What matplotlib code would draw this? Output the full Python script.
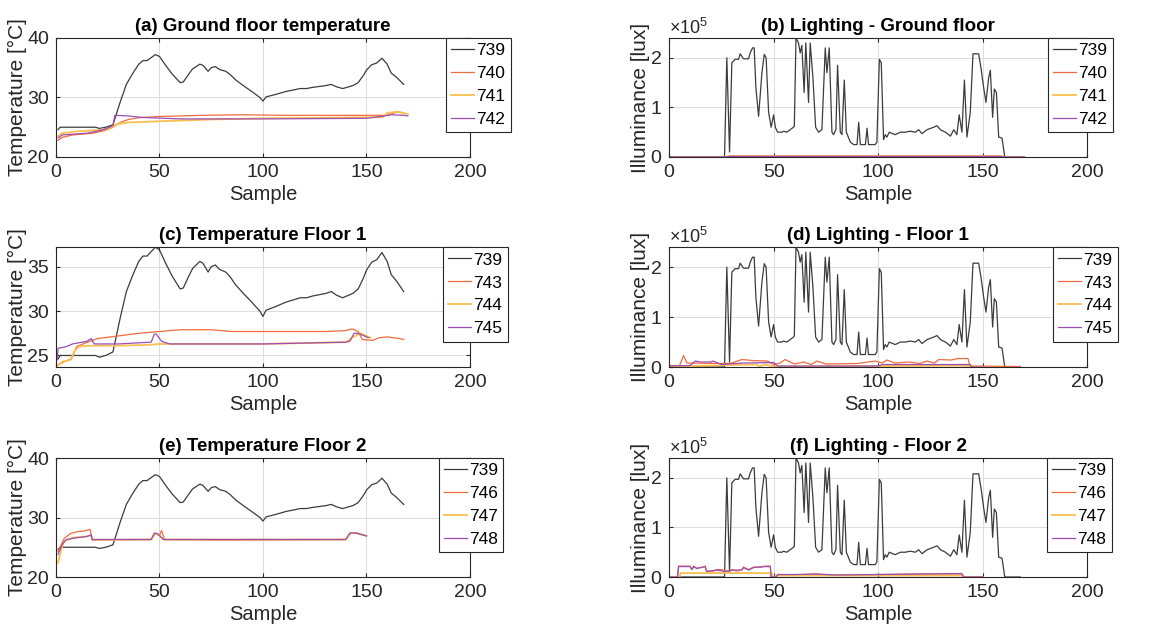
import numpy as np
import matplotlib.pyplot as plt
from matplotlib.ticker import ScalarFormatter

plt.rcParams['font.family'] = ['Liberation Sans', 'DejaVu Sans']
plt.rcParams['mathtext.fontset'] = 'custom'
plt.rcParams['mathtext.rm'] = 'Liberation Sans'

# 传感器 739 (室外参考), 三个楼层都画
temp_739 = [(1, 24.6), (2, 25.0), (19, 25.0), (21, 24.8), (24, 25.0), (27.5, 25.4), (29, 27.0),
            (31, 29.2), (34, 32.2), (37, 34.0), (40, 35.6), (42, 36.2), (44, 36.2), (46, 36.7),
            (48, 37.2), (50, 36.9), (53, 35.4), (56, 34.0), (60, 32.5), (61.5, 32.6), (64.5, 34.1),
            (66, 34.8), (69.5, 35.6), (71, 35.4), (73.5, 34.4), (75, 35.0), (77, 35.2), (79, 34.7),
            (82, 34.4), (84, 33.9), (87, 32.9), (90.5, 32.0), (95, 30.9), (98.5, 30.0), (100, 29.4),
            (101.5, 30.1), (106, 30.5), (111, 31.0), (118, 31.5), (121, 31.5), (124, 31.7),
            (130.5, 32.0), (133, 32.2), (135.5, 31.8), (138.5, 31.5), (143.5, 32.0), (146, 32.5),
            (148.5, 33.7), (150, 34.6), (152.5, 35.5), (155, 35.8), (157.5, 36.6), (160, 35.6),
            (162, 34.1), (164.5, 33.4), (168, 32.2)]

# 照度, 单位 1e5 lux
lux_739 = [(0, 0), (26.5, 0), (27.6, 2.0), (28.9, 0.1), (30, 1.9), (31.6, 1.97), (33.2, 1.97),
           (34, 2.08), (35.6, 1.98), (38, 1.98), (38.8, 2.1), (39.9, 2.2), (40.7, 2.2), (41.5, 1.4),
           (42.8, 0.82), (44.4, 1.7), (45.5, 2.07), (46.4, 2.0), (47.6, 0.9), (48.8, 0.6), (50, 0.85),
           (50.8, 0.6), (51.9, 0.5), (54, 0.5), (54.7, 0.52), (56.3, 0.5), (57.9, 0.55), (59.5, 0.6),
           (59.9, 0.62), (60.7, 2.4), (61.9, 2.3), (62.7, 2.1), (63.5, 2.25), (64.6, 1.3), (65.4, 2.3),
           (66.7, 1.1), (67.5, 2.3), (68.8, 1.6), (70.1, 0.6), (71.5, 0.5), (73.1, 0.55), (74.7, 2.2),
           (75.5, 1.7), (76.6, 2.2), (77.9, 0.5), (78.7, 0.45), (79.8, 0.55), (80.6, 1.85), (81.9, 0.5),
           (82.7, 0.45), (83.8, 1.55), (84.8, 0.5), (86.7, 0.3), (88.3, 0.25), (89.9, 0.25), (90.7, 0.7),
           (91.5, 0.25), (93.9, 0.25), (94.7, 0.58), (95.4, 0.25), (98.6, 0.25), (99.4, 0.3),
           (100.6, 1.97), (101.5, 1.9), (102.6, 0.35), (103.4, 0.45), (104.2, 0.4), (105.3, 0.5),
           (108.2, 0.45), (110.6, 0.5), (113, 0.5), (115.4, 0.52), (117.8, 0.5), (119.4, 0.55),
           (121, 0.47), (123.4, 0.55), (126.6, 0.6), (128.2, 0.63), (129.8, 0.55), (132.2, 0.5),
           (134.6, 0.42), (136.2, 0.55), (137.7, 0.45), (138.8, 0.85), (140.1, 0.5), (141.3, 1.55),
           (142.5, 0.4), (144.1, 0.9), (145.4, 2.08), (148.1, 2.08), (149.2, 1.8), (150.5, 1.4),
           (151.6, 1.1), (152.9, 1.6), (153.7, 1.75), (154.8, 0.8), (155.6, 1.37), (156.6, 1.3),
           (157.7, 0.4), (159.3, 0.38), (160.6, 0), (168, 0)]

# 一楼 (ground floor)
temp_740 = [(1, 22.8), (3, 23.3), (8, 23.7), (18, 24.0), (24, 24.5), (27, 24.9), (31, 25.8), (35, 26.3),
            (40, 26.6), (50, 26.8), (70, 27.0), (90, 27.1), (110, 27.0), (160, 27.0), (165, 27.6),
            (168, 27.4)]
temp_741 = [(1, 23.5), (3, 24.0), (10, 24.3), (20, 24.5), (26, 24.8), (29, 25.5), (35, 25.8), (50, 26.0),
            (75, 26.3), (100, 26.5), (130, 26.6), (158, 26.7), (160, 27.4), (165, 27.6), (170, 27.2)]
temp_742 = [(1, 23.2), (3, 23.7), (15, 24.0), (22, 24.5), (26, 25.0), (27.5, 25.3), (28.5, 27.0),
            (35, 26.9), (40, 26.7), (45, 26.6), (60, 26.4), (100, 26.4), (150, 26.5), (157, 26.8),
            (162, 27.1), (168, 27.0), (170, 26.9)]
lux_740 = [(0, 0), (27, 0), (29, 0.025), (158, 0.025), (161, 0), (170, 0)]
lux_741 = [(0, 0), (27, 0), (29, 0.015), (158, 0.015), (161, 0), (170, 0)]
lux_742 = [(0, 0), (27, 0), (29, 0.01), (158, 0.01), (161, 0), (170, 0)]

# 二楼 (floor 1)
temp_743 = [(0.5, 23.9), (5, 24.4), (7.5, 24.6), (10, 26.0), (14, 26.4), (20, 26.9), (30, 27.2),
            (40, 27.5), (50, 27.7), (60, 27.9), (75, 27.9), (85, 27.7), (130, 27.7), (140, 27.8),
            (143, 28.0), (146, 27.7), (148, 26.8), (153, 26.7), (156, 27.0), (160, 27.1), (166, 26.9),
            (168, 26.8)]
temp_744 = [(0.5, 23.8), (3, 24.3), (7, 24.5), (9, 25.5), (11, 26.0), (15, 26.1), (30, 26.1), (45, 26.2),
            (50, 26.3), (100, 26.3), (140, 26.5), (143, 27.0), (147, 27.5), (152, 27.0)]
temp_745 = [(0.5, 24.5), (1, 25.8), (5, 26.0), (8, 26.3), (15, 26.6), (17, 26.9), (18.5, 26.3),
            (30, 26.3), (46, 26.5), (47.5, 27.4), (48.5, 27.4), (51, 26.6), (55, 26.3), (100, 26.3),
            (140, 26.5), (142, 26.6), (144, 27.5), (146, 27.5), (149, 27.2), (151, 27.0)]
lux_743 = [(0, 0.03), (5, 0.03), (6.9, 0.23), (8.5, 0.08), (27, 0.07), (30, 0.08), (34.8, 0.15),
           (40, 0.13), (47, 0.12), (50, 0.05), (53, 0.08), (55.5, 0.15), (60, 0.06), (64.3, 0.1),
           (68, 0.05), (70.7, 0.12), (75, 0.06), (90, 0.07), (98.6, 0.12), (102, 0.08), (104.2, 0.14),
           (108, 0.08), (115, 0.1), (120, 0.07), (123.4, 0.12), (127, 0.08), (129, 0.15), (135, 0.14),
           (138, 0.17), (143, 0.17), (144, 0.02), (168, 0.01)]
lux_744 = [(0, 0.01), (10, 0.02), (30, 0.04), (42, 0.05), (43, 0.01), (46, 0.05), (50, 0.01),
           (100, 0.02), (140, 0.03), (150, 0.0)]
lux_745 = [(0, 0.02), (10, 0.03), (12.5, 0.12), (15, 0.1), (20, 0.1), (21, 0.12), (25, 0.05),
           (35, 0.08), (50, 0.09), (52, 0.02), (100, 0.02), (102, 0.05), (144, 0.05), (145, 0.0),
           (150, 0.0)]

# 三楼 (floor 2)
temp_746 = [(1, 24.3), (4, 26.5), (7, 27.3), (10, 27.6), (13, 27.7), (16.5, 28.0), (17.5, 26.3),
            (46, 26.3), (48, 27.3), (50, 27.0), (51, 27.8), (52.5, 26.3), (80, 26.2), (140, 26.3),
            (142.5, 27.4), (145, 27.4), (150, 26.9)]
temp_747 = [(1, 22.4), (2.5, 24.5), (4, 26.0), (8, 26.6), (14, 26.8), (17, 27.0), (17.5, 26.2),
            (46, 26.3), (48, 27.3), (50, 27.0), (52, 26.3), (140, 26.3), (142.5, 27.4), (145, 27.4),
            (150, 26.9)]
temp_748 = [(1, 23.8), (3, 25.5), (5, 26.3), (10, 26.6), (15, 26.8), (17, 27.1), (17.5, 26.3),
            (46, 26.3), (47.5, 27.4), (49, 27.3), (51, 26.6), (52, 26.3), (140, 26.3), (142, 27.4),
            (145, 27.4), (150, 26.9)]
lux_746 = [(0, 0), (4, 0), (4.5, 0.22), (10, 0.22), (10.9, 0.15), (11.7, 0.22), (13.2, 0.18),
           (16.4, 0.2), (17.2, 0.22), (18, 0.12), (21.2, 0.12), (22.8, 0.15), (25.2, 0.15),
           (26.8, 0.12), (29.2, 0.12), (30, 0.15), (32.4, 0.12), (34.8, 0.15), (35.6, 0.2), (38, 0.15),
           (40.4, 0.2), (43.6, 0.2), (46, 0.22), (48.4, 0.22), (48.8, 0), (51, 0), (52, 0.05),
           (60, 0.04), (70, 0.06), (80, 0.04), (100, 0.05), (120, 0.06), (140, 0.06), (141, 0),
           (150, 0)]
lux_747 = [(0, 0), (5, 0), (5.5, 0.08), (49, 0.08), (49.5, 0), (52, 0.03), (140, 0.03), (141, 0),
           (150, 0)]
lux_748 = [(0, 0), (4, 0), (4.5, 0.21), (10, 0.21), (10.9, 0.15), (11.7, 0.21), (13.2, 0.17),
           (17.2, 0.21), (18, 0.11), (22.8, 0.14), (26.8, 0.11), (30, 0.14), (34.8, 0.14), (35.6, 0.19),
           (38, 0.14), (40.4, 0.19), (46, 0.21), (48.4, 0.21), (48.8, 0), (51, 0), (52, 0.05),
           (60, 0.05), (70, 0.06), (80, 0.04), (100, 0.05), (120, 0.06), (140, 0.07), (141, 0),
           (150, 0)]

colors = ['#3c3c3c', '#f26b3f', '#f9bf4f', '#9b4db5']
widths = [0.9, 0.9, 1.3, 0.9]

panels = [
    # title, series, labels, kind, axes rect, legend x
    ('(a) Ground floor temperature', [temp_739, temp_740, temp_741, temp_742], ['739', '740', '741', '742'],
     'temp', [0.0476, 0.7524, 0.352, 0.1877], 0.942, (20, 40), [20, 30, 40]),
    ('(b) Lighting - Ground floor', [lux_739, lux_740, lux_741, lux_742], ['739', '740', '741', '742'],
     'lux', [0.569, 0.7524, 0.3554, 0.1877], 0.907, None, None),
    ('(c) Temperature Floor 1', [temp_739, temp_743, temp_744, temp_745], ['739', '743', '744', '745'],
     'temp', [0.0476, 0.4211, 0.352, 0.189], 0.935, (23.7, 37.2), [25, 30, 35]),
    ('(d) Lighting - Floor 1', [lux_739, lux_743, lux_744, lux_745], ['739', '743', '744', '745'],
     'lux', [0.569, 0.4211, 0.3554, 0.189], 0.919, None, None),
    ('(e) Temperature Floor 2', [temp_739, temp_746, temp_747, temp_748], ['739', '746', '747', '748'],
     'temp', [0.0476, 0.0899, 0.352, 0.1877], 0.925, (20, 40), [20, 30, 40]),
    ('(f) Lighting - Floor 2', [lux_739, lux_746, lux_747, lux_748], ['739', '746', '747', '748'],
     'lux', [0.569, 0.0899, 0.3554, 0.1877], 0.904, None, None),
]

fig = plt.figure(figsize=(11.76, 6.34), dpi=100)
axc = '#262626'

for title, series, labels, kind, rect, legx, ylim, yticks in panels:
    ax = fig.add_axes(rect)
    for s, lab, c, w in zip(series, labels, colors, widths):
        x, y = zip(*s)
        y = np.array(y)
        if kind == 'lux':
            y = y * 1e5
        ax.plot(x, y, color=c, lw=w, label=lab)
    ax.set_xlim(0, 200)
    ax.set_xticks([0, 50, 100, 150, 200])
    if kind == 'temp':
        ax.set_ylim(*ylim)
        ax.set_yticks(yticks)
        ax.set_ylabel('Temperature [°C]', fontsize=15, color=axc, labelpad=0)
    else:
        ax.set_ylim(0, 2.4e5)
        ax.set_yticks([0, 1e5, 2e5])
        fmt = ScalarFormatter(useMathText=True)
        fmt.set_powerlimits((0, 0))
        ax.yaxis.set_major_formatter(fmt)
        ax.yaxis.get_offset_text().set_fontsize(13)
        ax.yaxis.get_offset_text().set_color('#555555')
        ax.set_ylabel('Illuminance [lux]', fontsize=15, color=axc, labelpad=0)
    ax.set_xlabel('Sample', fontsize=14.5, color=axc, labelpad=3)
    ax.set_title(title, fontsize=13.5, fontweight='bold', pad=5)
    ax.grid(True, color='#dcdcdc', lw=0.7)
    ax.set_axisbelow(True)
    ax.tick_params(direction='in', length=3, labelsize=14, colors=axc, top=True, right=True, pad=5)
    for sp in ax.spines.values():
        sp.set_color(axc)
        sp.set_linewidth(0.8)
    leg = ax.legend(loc='upper left', bbox_to_anchor=(legx, 1.0), fontsize=12.5, frameon=True,
                    fancybox=False, framealpha=1, edgecolor=axc, borderaxespad=0,
                    handlelength=1.3, handletextpad=0.15, borderpad=0.3, labelspacing=0.45)
    leg.get_frame().set_linewidth(0.8)

plt.savefig('out.png', dpi=100)
